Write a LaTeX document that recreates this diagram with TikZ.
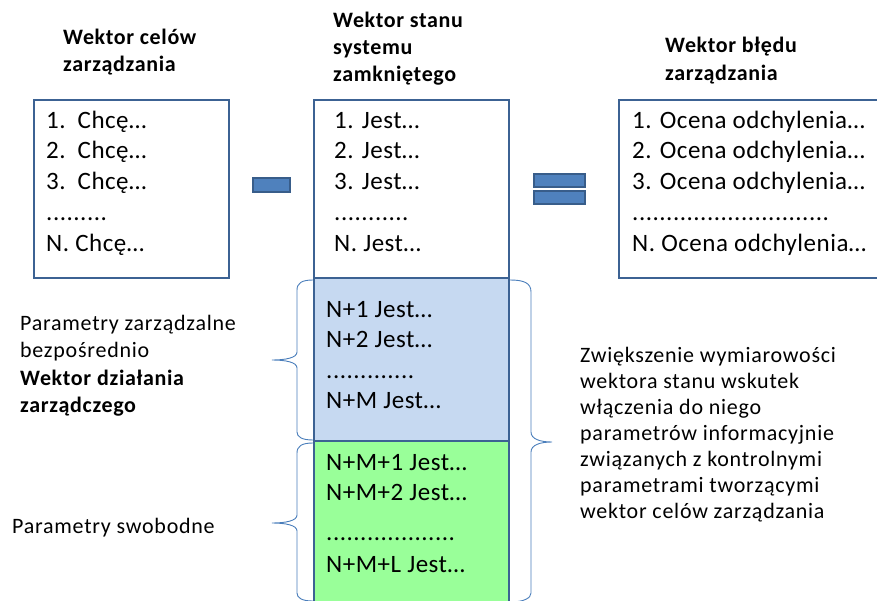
\documentclass[tikz,border=0pt]{standalone}
\usepackage{fontspec}
\setmainfont{Carlito}
\newfontfamily\bodyfont[LetterSpace=2]{Carlito}
\newfontfamily\labelfont[LetterSpace=3.4]{Carlito}
\newfontfamily\headfont[LetterSpace=3]{Carlito}
\definecolor{boxline}{HTML}{3C6293}
\definecolor{signfill}{HTML}{4F81BD}
\definecolor{signline}{HTML}{385D8A}
\definecolor{bluefill}{HTML}{C6D9F1}
\definecolor{greenfill}{HTML}{99FF99}
\definecolor{bracecol}{HTML}{4A7EBB}
\tikzset{
  body/.style={inner sep=0pt, anchor=base west, font=\bodyfont\fontsize{25}{30}\selectfont},
  dotrow/.style={inner sep=0pt, anchor=base west, font=\bodyfont\fontsize{25}{30}\selectfont},
  label/.style={inner sep=0pt, anchor=base west, font=\labelfont\fontsize{22}{26}\selectfont},
  blabel/.style={inner sep=0pt, anchor=base west, font=\headfont\fontsize{22}{26}\selectfont\bfseries},
  head/.style={inner sep=0pt, anchor=base west, font=\headfont\fontsize{22}{26}\selectfont\bfseries},
  frame/.style={draw=boxline, line width=2.2pt},
  sign/.style={draw=signline, fill=signfill, line width=1.6pt},
  brace/.style={draw=bracecol, line width=0.9pt}
}
\begin{document}
\begin{tikzpicture}[x=1pt,y=-1pt]
\useasboundingbox (0,0) rectangle (877,601);
\clip (0,0) rectangle (877,601);
% boxes
\draw[frame] (34,100) rectangle (229,278);
\draw[frame, fill=greenfill] (314,441) rectangle (509,612);
\draw[frame, fill=bluefill] (314,278) rectangle (509,441);
\draw[frame] (314,100) rectangle (509,278);
\draw[frame] (619,100) rectangle (895,278);
% signs
\draw[sign] (253,178) rectangle (290,192);
\draw[sign] (534,174) rectangle (585,187);
\draw[sign] (534,191) rectangle (585,204);
% headers
\node[head] (h1a) at (63,45) {Wektor celów};
\node[head] (h1b) at (63,72) {zarządzania};
\node[head] (h2a) at (333,28) {Wektor stanu};
\node[head] (h2b) at (333,55) {systemu};
\node[head] (h2c) at (333,82) {zamkniętego};
\node[head] (h3a) at (665,53) {Wektor błędu};
\node[head] (h3b) at (665,81) {zarządzania};
% left box
\node[body] (c1) at (46,129) {1.\hspace{12pt}Chcę…};
\node[body] (c2) at (46,159) {2.\hspace{12pt}Chcę…};
\node[body] (c3) at (46,190) {3.\hspace{12pt}Chcę…};
\node[dotrow] (c4) at (46,221) {.........};
\node[body] (c5) at (46,252) {N. Chcę…};
% middle box
\node[body] (s1) at (334,129) {1. Jest…};
\node[body] (s2) at (334,159) {2. Jest…};
\node[body] (s3) at (334,190) {3. Jest…};
\node[dotrow] (s4) at (334,221) {...........};
\node[body] (s5) at (334,252) {N. Jest…};
\node[body] (b1) at (326,317) {N+1 Jest…};
\node[body] (b2) at (326,347) {N+2 Jest…};
\node[dotrow] (b3) at (326,378) {.............};
\node[body] (b4) at (326,408) {N+M Jest…};
\node[body] (g1) at (326,470) {N+M+1 Jest…};
\node[body] (g2) at (326,500) {N+M+2 Jest…};
\node[dotrow] (g3) at (326,540) {...................};
\node[body] (g4) at (326,572) {N+M+L Jest…};
% right box
\node[body] (e1) at (632,129) {1. Ocena odchylenia…};
\node[body] (e2) at (632,159) {2. Ocena odchylenia…};
\node[body] (e3) at (632,190) {3. Ocena odchylenia…};
\node[dotrow] (e4) at (632,221) {.............................};
\node[body] (e5) at (632,252) {N. Ocena odchylenia…};
% left labels
\node[label] (p1) at (20,330) {Parametry zarządzalne};
\node[label] (p2) at (20,357) {bezpośrednio};
\node[blabel] (p3) at (20,385) {Wektor\hspace{6pt}działania};
\node[blabel] (p4) at (20,412) {zarządczego};
\node[label] (p5) at (12,533) {Parametry swobodne};
% right text
\node[label] (r1) at (580,362) {Zwiększenie wymiarowości};
\node[label] (r2) at (580,388) {wektora stanu wskutek};
\node[label] (r3) at (580,414) {włączenia do niego};
\node[label] (r4) at (580,440) {parametrów informacyjnie};
\node[label] (r5) at (580,466) {związanych z kontrolnymi};
\node[label] (r6) at (580,492) {parametrami tworzącymi};
\node[label] (r7) at (580,518) {wektor celów zarządzania};
% braces
\draw[brace] (313,280) .. controls (302,280) and (297,283) .. (297,290) -- (297,352)
  .. controls (297,358) and (285,360) .. (272,360)
  .. controls (285,360) and (297,362) .. (297,368) -- (297,432)
  .. controls (297,437) and (302,440) .. (313,440);
\draw[brace] (313,443) .. controls (302,443) and (297,446) .. (297,453) -- (297,515)
  .. controls (297,521) and (285,523) .. (272,523)
  .. controls (285,523) and (297,525) .. (297,531) -- (297,593)
  .. controls (297,598) and (302,601) .. (313,601);
\draw[brace] (510,280) .. controls (524,280) and (531,283) .. (531,292) -- (531,432)
  .. controls (531,439) and (540,442) .. (552,442)
  .. controls (540,442) and (531,445) .. (531,452) -- (531,593)
  .. controls (531,598) and (524,602) .. (510,602);
\end{tikzpicture}
\end{document}
